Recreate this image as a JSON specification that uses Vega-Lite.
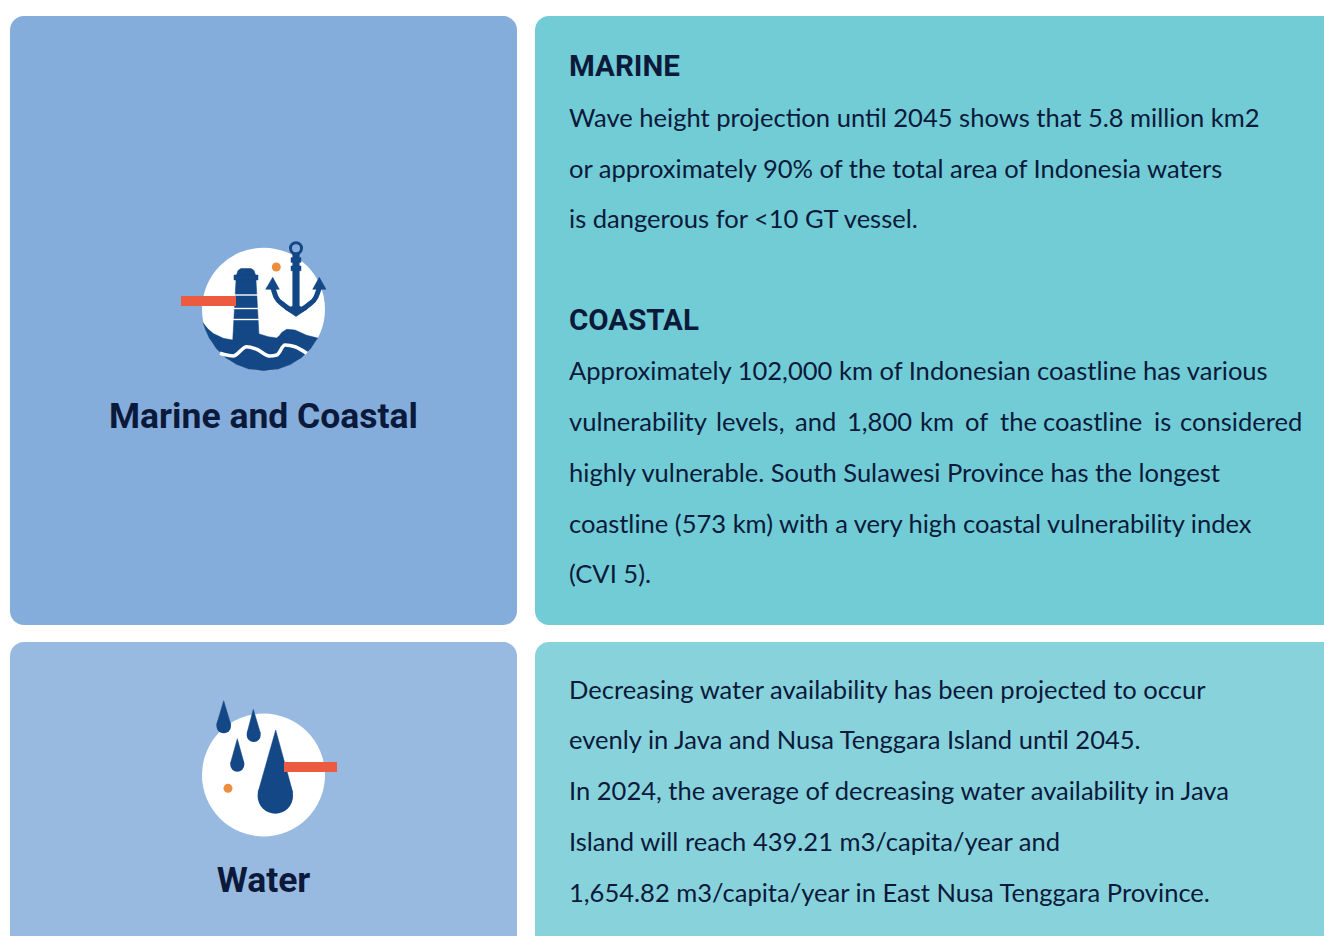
{
"$schema":"https://vega.github.io/schema/vega-lite/v6.json",
"width":1324,"height":936,
"autosize":{"type":"fit","contains":"padding"},
"padding":0,
"background":"white",
"config":{"view":{"stroke":null}},
"datasets":{
"panels":[
{"panel":"Marine and Coastal","x":10,"x2":517,"y":16,"y2":625,"color":"#85ADDC"},
{"panel":"Marine and Coastal text","x":535,"x2":1380,"y":16,"y2":625,"color":"#72CCD5"},
{"panel":"Water","x":10,"x2":517,"y":642,"y2":990,"color":"#98BAE0"},
{"panel":"Water text","x":535,"x2":1380,"y":642,"y2":990,"color":"#88D3DB"}
],
"bars":[
{"x":181,"x2":236,"y":296,"y2":306},
{"x":284,"x2":337,"y":762,"y2":772}
],
"dots":[
{"name":"marine disc","x":263.5,"y":309.2,"area":15129,"color":"#FFFFFF"},
{"name":"water disc","x":263.5,"y":775,"area":15129,"color":"#FFFFFF"}
],
"dots2":[
{"name":"marine sun","x":276.3,"y":267,"area":80,"color":"#EE8D3E"},
{"name":"water sun","x":228,"y":788.3,"area":80,"color":"#EE8D3E"},
{"name":"big drop","x":275.3,"y":796,"area":1253,"color":"#134785"},
{"name":"drop a","x":223.7,"y":726,"area":213,"color":"#134785"},
{"name":"drop b","x":253.7,"y":735,"area":196,"color":"#134785"},
{"name":"drop c","x":237.3,"y":764.7,"area":196,"color":"#134785"}
],
"shapes":[
{"s":"sea","o":1,"x":203.3,"y":323.3},{"s":"sea","o":2,"x":208,"y":329},{"s":"sea","o":3,"x":213.3,"y":333.5},{"s":"sea","o":4,"x":223.3,"y":338.3},{"s":"sea","o":5,"x":232.7,"y":340},{"s":"sea","o":6,"x":259.3,"y":334},{"s":"sea","o":7,"x":268.3,"y":336.7},{"s":"sea","o":8,"x":276.7,"y":338},{"s":"sea","o":9,"x":279.5,"y":335.5},{"s":"sea","o":10,"x":281.7,"y":332.5},{"s":"sea","o":11,"x":286.7,"y":329.3},{"s":"sea","o":12,"x":295,"y":330},{"s":"sea","o":13,"x":306.7,"y":335.3},{"s":"sea","o":14,"x":317.8,"y":338.1},{"s":"sea","o":15,"x":310.6,"y":348.7},{"s":"sea","o":16,"x":301.4,"y":357.7},{"s":"sea","o":17,"x":290.5,"y":364.5},{"s":"sea","o":18,"x":278.4,"y":368.9},{"s":"sea","o":19,"x":263.5,"y":370.7},{"s":"sea","o":20,"x":248.6,"y":368.9},{"s":"sea","o":21,"x":236.6,"y":364.5},{"s":"sea","o":22,"x":225.6,"y":357.7},{"s":"sea","o":23,"x":216.4,"y":348.7},{"s":"sea","o":24,"x":209.2,"y":338.1},{"s":"sea","o":25,"x":205.7,"y":330.2},
{"s":"tower","o":1,"x":236,"y":280},{"s":"tower","o":2,"x":232.7,"y":341},{"s":"tower","o":3,"x":259.3,"y":341},{"s":"tower","o":4,"x":256,"y":280},
{"s":"gallery","o":1,"x":234,"y":275},{"s":"gallery","o":2,"x":234,"y":280},{"s":"gallery","o":3,"x":258,"y":280},{"s":"gallery","o":4,"x":258,"y":275},
{"s":"dome","o":1,"x":236.5,"y":275},{"s":"dome","o":2,"x":238,"y":270.5},{"s":"dome","o":3,"x":241,"y":268.5},{"s":"dome","o":4,"x":251,"y":268.5},{"s":"dome","o":5,"x":254,"y":270.5},{"s":"dome","o":6,"x":255.5,"y":275},
{"s":"shank","o":1,"x":292.7,"y":254},{"s":"shank","o":2,"x":292.7,"y":312},{"s":"shank","o":3,"x":299.3,"y":312},{"s":"shank","o":4,"x":299.3,"y":254},
{"s":"cross1","o":1,"x":291,"y":257.7},{"s":"cross1","o":2,"x":291,"y":262.3},{"s":"cross1","o":3,"x":301,"y":262.3},{"s":"cross1","o":4,"x":301,"y":257.7},
{"s":"cross2","o":1,"x":291,"y":266},{"s":"cross2","o":2,"x":291,"y":270.7},{"s":"cross2","o":3,"x":301,"y":270.7},{"s":"cross2","o":4,"x":301,"y":266},
{"s":"headL","o":1,"x":272.7,"y":277.3},{"s":"headL","o":2,"x":265.7,"y":289.3},{"s":"headL","o":3,"x":279.3,"y":289.3},
{"s":"headR","o":1,"x":319.3,"y":277.3},{"s":"headR","o":2,"x":312.7,"y":289.3},{"s":"headR","o":3,"x":326,"y":289.3},
{"s":"tip","o":1,"x":285,"y":309},{"s":"tip","o":2,"x":296,"y":316.6},{"s":"tip","o":3,"x":307,"y":309},{"s":"tip","o":4,"x":296,"y":305},
{"s":"bigdrop","o":1,"x":275.7,"y":730},{"s":"bigdrop","o":2,"x":258,"y":792.5},{"s":"bigdrop","o":3,"x":292.8,"y":792.5},
{"s":"dropa","o":1,"x":223.7,"y":700.7},{"s":"dropa","o":2,"x":216.6,"y":724.6},{"s":"dropa","o":3,"x":230.8,"y":724.6},
{"s":"dropb","o":1,"x":253.3,"y":709.3},{"s":"dropb","o":2,"x":246.9,"y":733.6},{"s":"dropb","o":3,"x":260.5,"y":733.6},
{"s":"dropc","o":1,"x":237.3,"y":738.7},{"s":"dropc","o":2,"x":230.5,"y":763.3},{"s":"dropc","o":3,"x":244.1,"y":763.3}
],
"bands":[
{"s":"b1","o":1,"x":234,"y":295},{"s":"b1","o":2,"x":258,"y":295},
{"s":"b2","o":1,"x":233,"y":308.5},{"s":"b2","o":2,"x":259,"y":308.5},
{"s":"b3","o":1,"x":232,"y":319.5},{"s":"b3","o":2,"x":260,"y":319.5}
],
"wave":[
{"o":1,"x":220,"y":353.3},{"o":2,"x":233.3,"y":356},{"o":3,"x":246.7,"y":346.7},{"o":4,"x":256.7,"y":349.3},{"o":5,"x":270,"y":356},{"o":6,"x":276.7,"y":355},{"o":7,"x":285,"y":345},{"o":8,"x":295,"y":346.7},{"o":9,"x":306.7,"y":353.3}
],
"arms":[
{"o":1,"x":273,"y":288},{"o":2,"x":276,"y":297},{"o":3,"x":283,"y":304.5},{"o":4,"x":296,"y":311},{"o":5,"x":309,"y":304.5},{"o":6,"x":316,"y":297},{"o":7,"x":319.3,"y":288}
],
"ring":[{"x":296,"y":248.3}],
"heads":[
{"t":"MARINE","x":569,"y":76},
{"t":"COASTAL","x":569,"y":330}
],
"titles":[
{"t":"Marine and Coastal","x":263.5,"y":428},
{"t":"Water","x":263.5,"y":892}
],
"body":[
{"t":"Wave height projection until 2045 shows that 5.8 million km2","x":569,"y":126.5},
{"t":"or approximately 90% of the total area of Indonesia waters","x":569,"y":177.5},
{"t":"is dangerous for <10 GT vessel.","x":569,"y":227.5},
{"t":"Approximately 102,000 km of Indonesian coastline has various","x":569,"y":379.5},
{"t":"vulnerability","x":569,"y":430.5},{"t":"levels,","x":716,"y":430.5},{"t":"and","x":795,"y":430.5},{"t":"1,800","x":847,"y":430.5},{"t":"km","x":920,"y":430.5},{"t":"of","x":965,"y":430.5},{"t":"the","x":1000,"y":430.5},{"t":"coastline","x":1043,"y":430.5},{"t":"is","x":1154,"y":430.5},{"t":"considered","x":1180,"y":430.5},
{"t":"highly vulnerable. South Sulawesi Province has the longest","x":569,"y":481.5},
{"t":"coastline (573 km) with a very high coastal vulnerability index","x":569,"y":532.5},
{"t":"(CVI 5).","x":569,"y":582.5},
{"t":"Decreasing water availability has been projected to occur","x":569,"y":698.5},
{"t":"evenly in Java and Nusa Tenggara Island until 2045.","x":569,"y":748.5},
{"t":"In 2024, the average of decreasing water availability in Java","x":569,"y":799.5},
{"t":"Island will reach 439.21 m3/capita/year and","x":569,"y":850.5},
{"t":"1,654.82 m3/capita/year in East Nusa Tenggara Province.","x":569,"y":901.5}
]
},
"encoding":{
"x":{"field":"x","type":"quantitative","scale":{"domain":[0,1324],"nice":false,"zero":false},"axis":null},
"y":{"field":"y","type":"quantitative","scale":{"domain":[936,0],"nice":false,"zero":false},"axis":null}
},
"layer":[
{"data":{"name":"panels"},"mark":{"type":"rect","cornerRadius":14,"clip":true},"encoding":{"x2":{"field":"x2"},"y2":{"field":"y2"},"color":{"field":"color","type":"nominal","scale":null}}},
{"data":{"name":"dots"},"mark":{"type":"point","filled":true,"opacity":1,"strokeWidth":0},"encoding":{"size":{"field":"area","type":"quantitative","scale":null},"color":{"field":"color","type":"nominal","scale":null}}},
{"data":{"name":"shapes"},"mark":{"type":"line","fill":"#134785","stroke":"#134785","strokeWidth":0.5,"interpolate":"linear-closed"},"encoding":{"detail":{"field":"s"},"order":{"field":"o","type":"ordinal"}}},
{"data":{"name":"bands"},"mark":{"type":"line","stroke":"#FFFFFF","strokeWidth":1.4},"encoding":{"detail":{"field":"s"},"order":{"field":"o","type":"ordinal"}}},
{"data":{"name":"wave"},"mark":{"type":"line","stroke":"#FFFFFF","strokeWidth":3.6,"interpolate":"monotone"},"encoding":{"order":{"field":"o","type":"ordinal"}}},
{"data":{"name":"arms"},"mark":{"type":"line","stroke":"#134785","strokeWidth":5,"interpolate":"monotone"},"encoding":{"order":{"field":"o","type":"ordinal"}}},
{"data":{"name":"ring"},"mark":{"type":"point","filled":false,"opacity":1,"size":121,"stroke":"#134785","strokeWidth":3}},
{"data":{"name":"bars"},"mark":{"type":"rect","color":"#EC5B40"},"encoding":{"x2":{"field":"x2"},"y2":{"field":"y2"}}},
{"data":{"name":"dots2"},"mark":{"type":"point","filled":true,"opacity":1,"strokeWidth":0},"encoding":{"size":{"field":"area","type":"quantitative","scale":null},"color":{"field":"color","type":"nominal","scale":null}}},
{"data":{"name":"heads"},"mark":{"type":"text","align":"left","baseline":"alphabetic","font":"Roboto","fontWeight":"bold","fontSize":29.5,"color":"#0B1A3B"},"encoding":{"text":{"field":"t"}}},
{"data":{"name":"titles"},"mark":{"type":"text","align":"center","baseline":"alphabetic","font":"Roboto","fontWeight":"bold","fontSize":35.5,"color":"#0B1A3B"},"encoding":{"text":{"field":"t"}}},
{"data":{"name":"body"},"mark":{"type":"text","align":"left","baseline":"alphabetic","font":"Lato","fontSize":25.55,"color":"#0B1A3B"},"encoding":{"text":{"field":"t"}}}
]
}
